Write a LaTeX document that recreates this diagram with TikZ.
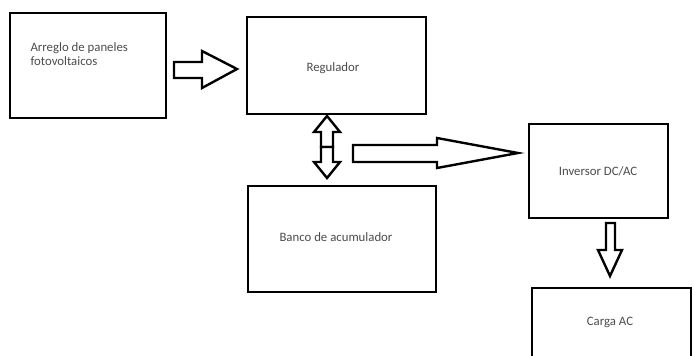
\documentclass[tikz,border=0pt]{standalone}
\usepackage{fontspec}
\setmainfont{Carlito}
\begin{document}
\begin{tikzpicture}[x=1pt,y=-1pt,
  blk/.style={draw=black,line width=2.8pt,fill=white},
  lbl/.style={font=\fontsize{12.8}{13.5}\selectfont,text=black!70},
  barrow/.style={draw=black,line width=2.4pt,line join=miter,fill=white}]
\useasboundingbox (0,0) rectangle (694,356);
% boxes
\draw[blk] (10,13) rectangle (166,118);
\node[lbl,anchor=west,align=left] (arreglo) at (27,54) {Arreglo de paneles\\fotovoltaicos};
\draw[blk] (247,17) rectangle (426,114);
\node[lbl] (regulador) at (333,68) {Regulador};
\draw[blk] (248,186) rectangle (436,292);
\node[lbl] (banco) at (336,237) {Banco de acumulador};
\draw[blk] (529,124) rectangle (668,218);
\node[lbl] (inversor) at (598,171) {Inversor DC/AC};
\draw[blk] (532,288) rectangle (691,370);
\node[lbl] (carga) at (610,322) {Carga AC};
% block arrows
\draw[barrow] (174,62) -- (202,62) -- (202,51) -- (237,69) -- (202,88) -- (202,78) -- (174,78) -- cycle;
\draw[barrow] (353,145) -- (437,145) -- (437,138) -- (518,153) -- (437,168) -- (437,162) -- (353,162) -- cycle;
\draw[barrow] (606,223) -- (615,223) -- (615,250) -- (622,250) -- (610,276) -- (598,250) -- (606,250) -- cycle;
% two-way arrow between regulator and battery bank
\draw[barrow] (327,116) -- (340,132) -- (333,132) -- (333,147) -- (321,147) -- (321,132) -- (314,132) -- cycle;
\draw[barrow] (327,178) -- (340,162) -- (333,162) -- (333,147) -- (321,147) -- (321,162) -- (314,162) -- cycle;
\end{tikzpicture}
\end{document}
